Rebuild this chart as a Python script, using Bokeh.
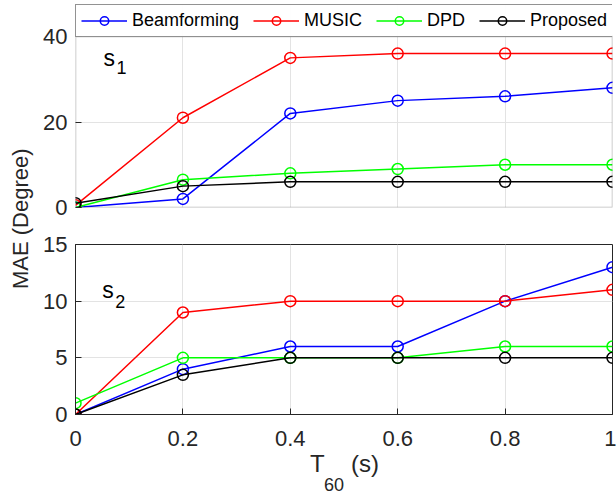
import math
from bokeh.plotting import figure
from bokeh.models import (Legend, LegendItem, Label, FixedTicker, Range1d, GridBox,
                          BoxAnnotation)
from bokeh.embed import file_html
from bokeh.resources import INLINE

# ---- data ----
T60 = [0, 0.2, 0.4, 0.6, 0.8, 1.0]
x_ticks = [0, 0.2, 0.4, 0.6, 0.8, 1.0]
s1_ticks = [0, 20, 40]
s2_ticks = [0, 5, 10, 15]

s1_beamforming = [0, 2, 22, 25, 26, 28]
s1_music = [0.5, 21, 35, 36, 36, 36]
s1_dpd = [0, 6.5, 8, 9, 10, 10]
s1_proposed = [1, 5, 6, 6, 6, 6]

s2_beamforming = [0, 4, 6, 6, 10, 13]
s2_music = [0, 9, 10, 10, 10, 11]
s2_dpd = [1, 5, 5, 5, 6, 6]
s2_proposed = [0, 3.5, 5, 5, 5, 5]

methods = ["Beamforming", "MUSIC", "DPD", "Proposed"]
colors = ["#0000ff", "#ff0000", "#00ff00", "#000000"]

FONT = "Liberation Sans"
AX = "#262626"
PW = 576   # plot width
LB = 35    # left border
RB = 4     # right border
TOP_AXES_PX = 171     # pixel height of the s1 axes box
TOP_LEGEND_PX = 32    # room above it (inside the frame) for the legend


def style(p, yt, show_x):
    p.outline_line_color = AX
    p.outline_line_width = 1
    for ax in (p.xaxis, p.yaxis):
        ax.axis_line_color = AX
        ax.major_tick_line_color = AX
        ax.major_tick_in = 6
        ax.major_tick_out = 0
        ax.minor_tick_line_color = None
        ax.major_label_text_font = FONT
        ax.major_label_text_font_size = "22px"
        ax.major_label_text_color = AX
    p.xaxis.ticker = FixedTicker(ticks=x_ticks)
    p.yaxis.ticker = FixedTicker(ticks=yt)
    p.yaxis.major_label_standoff = 8
    p.xaxis.major_label_standoff = 16
    if not show_x:
        p.xaxis.visible = False
    p.xgrid.grid_line_color = "#e3e3e3"
    p.ygrid.grid_line_color = "#e3e3e3"
    p.xgrid.ticker = FixedTicker(ticks=x_ticks)
    p.ygrid.ticker = FixedTicker(ticks=yt)


def add_series(p, ys):
    out = []
    for y, c in zip(ys, colors):
        l = p.line(T60, y, line_color=c, line_width=1.5)
        s = p.scatter(T60, y, marker="circle", size=11, fill_color=None,
                      line_color=c, line_width=1.5)
        out.append((l, s))
    return out


def sub_label(p, x, y, base, sub, dx, dy):
    p.add_layout(Label(x=x, y=y, text=base, text_font=FONT, text_font_size="23px",
                       text_baseline="middle", text_align="left", text_color="#000000"))
    p.add_layout(Label(x=x, y=y, x_offset=dx, y_offset=dy, text=sub, text_font=FONT,
                       text_font_size="18px", text_baseline="middle", text_align="left",
                       text_color="#000000"))


# ---- top panel (s1); its frame also holds the legend above the axes box ----
s1_max = s1_ticks[-1]
top_frame_px = TOP_AXES_PX + TOP_LEGEND_PX
TOP_H = 4 + top_frame_px + 18
top = figure(width=PW, height=TOP_H, x_range=Range1d(0, 1),
             y_range=Range1d(0, s1_max * top_frame_px / TOP_AXES_PX),
             output_backend="svg", toolbar_location=None,
             min_border_left=LB, min_border_right=RB, min_border_top=4,
             min_border_bottom=18)
style(top, s1_ticks, False)
top.outline_line_color = None
top.yaxis.axis_line_color = None
r1 = add_series(top, [s1_beamforming, s1_music, s1_dpd, s1_proposed])
top.add_layout(BoxAnnotation(left=0, right=1, bottom=0, top=s1_max,
                             fill_color=None, fill_alpha=0,
                             line_color=AX, line_width=1.5))
sub_label(top, 0.052, 35.0, "s", "1", 13, -10)

items = [LegendItem(label=m, renderers=[l, s]) for m, (l, s) in zip(methods, r1)]
legend = Legend(items=items, orientation="horizontal", location="top_left",
                label_text_font=FONT, label_text_font_size="18px",
                label_text_color="#000000",
                glyph_width=46, glyph_height=21, label_standoff=5,
                spacing=14, padding=5, margin=0,
                border_line_color=AX, border_line_width=1,
                background_fill_color="white")
top.add_layout(legend, "center")

# ---- bottom panel (s2) ----
bot = figure(width=PW, height=225, x_range=Range1d(0, 1), y_range=Range1d(0, 15),
             output_backend="svg", toolbar_location=None,
             min_border_left=LB, min_border_right=RB, min_border_top=19,
             min_border_bottom=36)
style(bot, s2_ticks, True)
add_series(bot, [s2_beamforming, s2_music, s2_dpd, s2_proposed])
sub_label(bot, 0.05, 11.0, "s", "2", 13, -12)

# ---- x-axis title strip (T_60 (s)) ----
XH = 49
xlab = figure(width=PW, height=XH, x_range=Range1d(0, 1), y_range=Range1d(0, XH),
              x_axis_location=None, y_axis_location=None,
              output_backend="svg", toolbar_location=None,
              min_border_left=LB, min_border_right=RB, min_border_top=0,
              min_border_bottom=0)
xlab.grid.visible = False
xlab.outline_line_color = None
xlab.add_layout(Label(x=0.5, y=XH - 13, x_offset=-34, text="T", text_font=FONT,
                      text_font_size="24px", text_baseline="middle", text_align="left",
                      text_color=AX))
xlab.add_layout(Label(x=0.5, y=XH - 34, x_offset=-20, text="60", text_font=FONT,
                      text_font_size="18px", text_baseline="middle", text_align="left",
                      text_color=AX))
xlab.add_layout(Label(x=0.5, y=XH - 13, x_offset=7, text="(s)", text_font=FONT,
                      text_font_size="24px", text_baseline="middle", text_align="left",
                      text_color=AX))

# ---- shared y-axis title ----
TOTAL_H = TOP_H + 225 + XH
lab = figure(width=40, height=TOTAL_H, x_range=Range1d(0, 40), y_range=Range1d(0, TOTAL_H),
             x_axis_location=None, y_axis_location=None,
             output_backend="svg", toolbar_location=None, min_border=0)
lab.grid.visible = False
lab.outline_line_color = None
lab.add_layout(Label(x=20, y=TOTAL_H - 216, text="MAE (Degree)", angle=math.pi / 2,
                     text_font=FONT, text_font_size="22px", text_align="center",
                     text_baseline="middle", text_color=AX))

layout = GridBox(children=[(lab, 0, 0, 3, 1), (top, 0, 1), (bot, 1, 1), (xlab, 2, 1)])

with open("out.html", "w") as f:
    f.write(file_html(layout, INLINE))
